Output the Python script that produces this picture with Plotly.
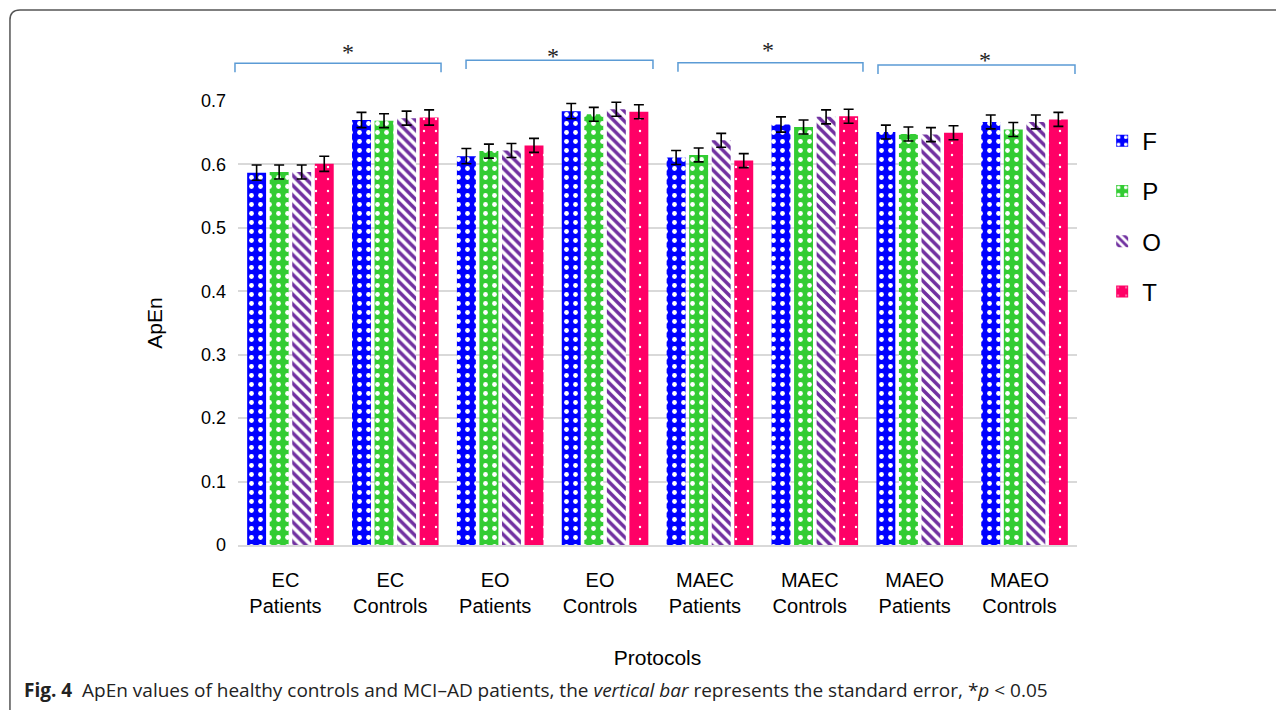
import plotly.graph_objects as go

categories = ["EC<br>Patients", "EC<br>Controls", "EO<br>Patients", "EO<br>Controls",
              "MAEC<br>Patients", "MAEC<br>Controls", "MAEO<br>Patients", "MAEO<br>Controls"]
series_names = ["F", "P", "O", "T"]
F_vals = [0.587, 0.670, 0.613, 0.684, 0.611, 0.663, 0.651, 0.667]
P_vals = [0.588, 0.669, 0.621, 0.679, 0.615, 0.659, 0.648, 0.655]
O_vals = [0.588, 0.673, 0.622, 0.687, 0.638, 0.675, 0.647, 0.667]
T_vals = [0.601, 0.674, 0.630, 0.683, 0.606, 0.676, 0.650, 0.671]
F_err = [0.012, 0.012, 0.012, 0.012, 0.011, 0.012, 0.011, 0.011]
P_err = [0.011, 0.011, 0.011, 0.011, 0.011, 0.011, 0.011, 0.011]
O_err = [0.011, 0.011, 0.011, 0.011, 0.011, 0.011, 0.011, 0.011]
T_err = [0.012, 0.012, 0.011, 0.011, 0.011, 0.011, 0.011, 0.011]
y_ticks = [0, 0.1, 0.2, 0.3, 0.4, 0.5, 0.6, 0.7]
y_tick_labels = ["0", "0.1", "0.2", "0.3", "0.4", "0.5", "0.6", "0.7"]
# significance brackets in paper units: (x start, x end, height, star x, star y)
brackets = [(-0.0036, 0.2420, 1.085, 0.1216, 1.144),
            (0.2718, 0.4946, 1.092, 0.3754, 1.135),
            (0.5244, 0.7449, 1.086, 0.6317, 1.149),
            (0.7628, 0.9976, 1.081, 0.8999, 1.126)]

colors = {"F": "#0000FF", "P": "#33CC33", "O": "#7030A0", "T": "#FF0066"}
patterns = {
    "F": dict(shape=".", bgcolor="#0000FF", fgcolor="white", fgopacity=1, size=9, solidity=0.22),
    "P": dict(shape=".", bgcolor="#33CC33", fgcolor="white", fgopacity=1, size=9, solidity=0.22),
    "O": dict(shape="\\", bgcolor="white", fgcolor="#7030A0", fgopacity=1, size=7, solidity=0.5),
    "T": dict(shape=".", bgcolor="#FF0066", fgcolor="white", fgopacity=1, size=12, solidity=0.03),
}
vals = {"F": F_vals, "P": P_vals, "O": O_vals, "T": T_vals}
errs = {"F": F_err, "P": P_err, "O": O_err, "T": T_err}

fig = go.Figure()
for s in series_names:
    fig.add_trace(go.Bar(
        x=categories, y=vals[s], name=s, legendgroup=s,
        marker=dict(color=colors[s], line=dict(width=0), pattern=patterns[s]),
        error_y=dict(type="data", array=errs[s], color="black", thickness=1.6, width=5),
    ))

for (x0, x1, yb, sx, sy) in brackets:
    fig.add_shape(type="path", xref="paper", yref="paper",
                  path=f"M {x0} {yb-0.02} L {x0} {yb} L {x1} {yb} L {x1} {yb-0.02}",
                  line=dict(color="#5B9BD5", width=1.5))
    fig.add_annotation(x=sx, y=sy, xref="paper", yref="paper", text="*", showarrow=False,
                       font=dict(size=24, color="#222", family="Liberation Serif"))

# figure frame (rounded top-left corner)
fig.add_shape(type="path", xref="paper", yref="paper",
              path="M -0.2718 -0.3716 L -0.2718 1.1825 Q -0.2718 1.2050 -0.2599 1.2050 L 1.2467 1.2050",
              line=dict(color="#555555", width=1.5))

fig.add_annotation(x=-0.2574, y=-0.3266, xref="paper", yref="paper", xanchor="left", yanchor="middle",
                   showarrow=False,
                   text="<b>Fig. 4</b>  ApEn values of healthy controls and MCI–AD patients, the <i>vertical bar</i> represents the standard error, *<i>p</i> &lt; 0.05",
                   font=dict(size=19, family="Open Sans", color="#222"))

fig.update_layout(
    width=1276, height=702,
    margin=dict(l=230, r=207, t=93, b=165, autoexpand=False),
    paper_bgcolor="white", plot_bgcolor="white",
    barmode="group", bargap=0.14, bargroupgap=0.16,
    font=dict(family="Liberation Sans", color="black"),
    xaxis=dict(title=dict(text="Protocols", font=dict(size=21), standoff=35),
               range=[-0.5, 7.5],
               tickfont=dict(size=20), showline=True, linecolor="#D9D9D9", linewidth=1.5,
               ticks="", ticklabelstandoff=16, ticklabelshift=-5),
    yaxis=dict(title=dict(text="ApEn", font=dict(size=21), standoff=32),
               range=[0, 0.7], tickvals=y_ticks, ticktext=y_tick_labels,
               tickfont=dict(size=18), showgrid=True, gridcolor="#D9D9D9", gridwidth=1.5,
               zeroline=False, showline=False, ticks="", ticklabelstandoff=11),
    legend=dict(x=1.030, y=0.96, xanchor="left", yanchor="top", font=dict(size=24),
                traceorder="grouped", tracegroupgap=16, itemwidth=30),
    showlegend=True,
)

fig.write_html("out.html")
